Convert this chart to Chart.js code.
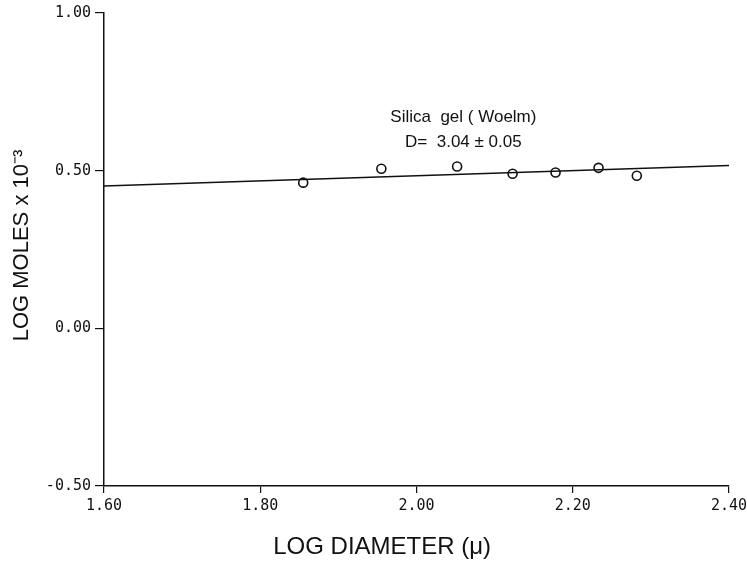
<!DOCTYPE html>
<html>
<head>
<meta charset="utf-8">
<script src="https://cdn.jsdelivr.net/npm/chart.js@4"></script>
<style>
  html, body { margin: 0; padding: 0; background: #fff; }
  #wrap { width: 747px; height: 561px; }
</style>
</head>
<body>
<div id="wrap"><canvas id="chart" width="747" height="561"></canvas></div>
<script>
// measured points (log diameter vs log moles x 10^-3)
const logDiameter = [1.855, 1.955, 2.052, 2.123, 2.178, 2.233, 2.282];
const logMoles = [0.462, 0.506, 0.513, 0.490, 0.494, 0.509, 0.484];

// fitted line end points
const fitX = [1.60, 2.40];
const fitY = [0.451, 0.516];

const xTicks = [1.60, 1.80, 2.00, 2.20, 2.40];
const yTicks = [-0.50, 0.00, 0.50, 1.00];

const labelLines = ['Silica  gel ( Woelm)', 'D=  3.04 ± 0.05'];
const labelAt = { x: 2.06, y: [0.668, 0.590] };

const xTitle = 'LOG DIAMETER (μ)';
const yTitle = 'LOG MOLES x 10⁻³';

const ink = '#111';
const tickFont = { family: '"DejaVu Sans Mono", monospace', size: 15 };
const titleFont = '"Liberation Sans", Arial, sans-serif';

// texte d'annotation et titres des axes
const annotationPlugin = {
  id: 'annotation',
  afterDatasetsDraw(chart) {
    const { ctx, scales, chartArea } = chart;
    ctx.save();
    ctx.fillStyle = ink;
    ctx.textAlign = 'center';
    ctx.textBaseline = 'middle';
    ctx.font = '17px ' + titleFont;
    labelLines.forEach((txt, i) => {
      ctx.fillText(txt, scales.x.getPixelForValue(labelAt.x), scales.y.getPixelForValue(labelAt.y[i]));
    });

    // titre de l'axe x, un peu décalé à gauche comme l'original
    ctx.font = '24px ' + titleFont;
    ctx.fillText(xTitle, chartArea.left + (chartArea.right - chartArea.left) * 0.445, chartArea.bottom + 61);

    // titre de l'axe y
    ctx.font = '22px ' + titleFont;
    ctx.translate(chartArea.left - 82, (chartArea.top + chartArea.bottom) / 2 - 4);
    ctx.rotate(-Math.PI / 2);
    ctx.fillText(yTitle, 0, 0);
    ctx.restore();
  }
};

const ctx = document.getElementById('chart').getContext('2d');
new Chart(ctx, {
  type: 'scatter',
  data: {
    datasets: [
      {
        label: 'fit',
        data: fitX.map((x, i) => ({ x, y: fitY[i] })),
        showLine: true,
        borderColor: ink,
        borderWidth: 1.5,
        pointRadius: 0,
        fill: false
      },
      {
        label: 'Silica gel (Woelm)',
        data: logDiameter.map((x, i) => ({ x, y: logMoles[i] })),
        showLine: false,
        pointStyle: 'circle',
        pointRadius: 4.5,
        pointBorderWidth: 1.6,
        pointBorderColor: ink,
        pointBackgroundColor: '#fff'
      }
    ]
  },
  options: {
    responsive: false,
    animation: false,
    layout: { padding: { top: 13, right: 0, left: 0, bottom: 0 } },
    plugins: {
      legend: { display: false },
      tooltip: { enabled: false }
    },
    scales: {
      x: {
        type: 'linear',
        min: 1.6,
        max: 2.4,
        afterBuildTicks: (s) => { s.ticks = xTicks.map(v => ({ value: v })); },
        afterFit: (s) => { s.height = 75; s.paddingRight = 18; },
        border: { display: true, color: ink, width: 1.5 },
        grid: { drawOnChartArea: false, drawTicks: true, tickLength: 7, color: ink, lineWidth: 1.2 },
        ticks: {
          color: ink,
          font: tickFont,
          padding: 4,
          maxRotation: 0,
          callback: (v) => Number(v).toFixed(2)
        }
      },
      y: {
        type: 'linear',
        min: -0.5,
        max: 1.0,
        afterBuildTicks: (s) => { s.ticks = yTicks.map(v => ({ value: v })); },
        afterFit: (s) => { s.width = 104; },
        border: { display: true, color: ink, width: 1.5 },
        grid: { drawOnChartArea: false, drawTicks: true, tickLength: 9, color: ink, lineWidth: 1.2 },
        ticks: {
          color: ink,
          font: tickFont,
          padding: 4,
          callback: (v) => Number(v).toFixed(2)
        }
      }
    }
  },
  plugins: [annotationPlugin]
});
</script>
</body>
</html>
